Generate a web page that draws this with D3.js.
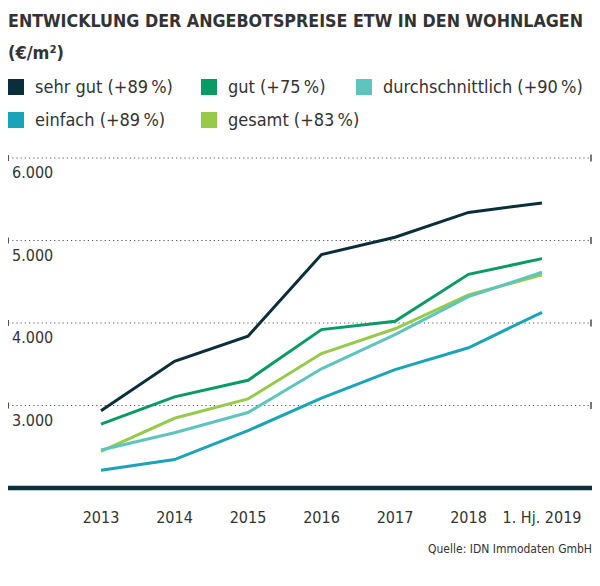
<!DOCTYPE html>
<html>
<head>
<meta charset="utf-8">
<script src="https://cdn.jsdelivr.net/npm/d3@7"></script>
<style>
  body { margin: 0; background: #fff; }
  svg { display: block; font-family: "Liberation Sans Narrow", "DejaVu Sans Condensed", "Roboto", sans-serif; }
</style>
</head>
<body>
<div id="chart"></div>
<script>
var years = ["2013", "2014", "2015", "2016", "2017", "2018", "1. Hj. 2019"];

var sehrGut = [2935, 3535, 3840, 4830, 5040, 5340, 5455];
var gut = [2775, 3105, 3305, 3920, 4020, 4590, 4780];
var durchschnittlich = [2460, 2670, 2915, 3445, 3860, 4320, 4615];
var einfach = [2215, 2345, 2695, 3090, 3435, 3700, 4130];
var gesamt = [2445, 2845, 3080, 3630, 3930, 4340, 4585];

var yTicks = [3000, 4000, 5000, 6000];

var seriesNames = ["sehr gut (+89\u202F%)", "gut (+75\u202F%)", "durchschnittlich (+90\u202F%)", "einfach (+89\u202F%)", "gesamt (+83\u202F%)"];
var seriesColors = ["#0b2e3b", "#0a9a64", "#5ec4be", "#1ba3b8", "#97c94a"];
var seriesValues = [sehrGut, gut, durchschnittlich, einfach, gesamt];

var width = 600, height = 586;

var svg = d3.select("#chart")
  .append("svg")
    .attr("width", width)
    .attr("height", height);

// title (two lines)
svg.append("text")
  .attr("x", 8).attr("y", 27)
  .attr("font-size", "18px")
  .attr("font-weight", "bold")
  .attr("fill", "#333")
  .attr("textLength", 575)
  .attr("lengthAdjust", "spacingAndGlyphs")
  .text("ENTWICKLUNG DER ANGEBOTSPREISE ETW IN DEN WOHNLAGEN");
svg.append("text")
  .attr("x", 8).attr("y", 59)
  .attr("font-size", "18px")
  .attr("font-weight", "bold")
  .attr("fill", "#333")
  .text("(€/m²)");

// legend
var legendPos = [[8, 79], [201, 79], [356, 79], [8, 112], [201, 112]];
var legend = svg.selectAll(".legend")
  .data(seriesNames)
  .enter()
  .append("g")
    .attr("class", "legend")
    .attr("transform", function(d, i) { return "translate(" + legendPos[i][0] + "," + legendPos[i][1] + ")"; });
legend.append("rect")
  .attr("width", 16).attr("height", 16)
  .attr("fill", function(d, i) { return seriesColors[i]; });
legend.append("text")
  .attr("x", 27).attr("y", 14)
  .attr("font-size", "18px")
  .attr("fill", "#333")
  .text(function(d) { return d; });

var x = d3.scalePoint()
  .domain(years)
  .range([101, 542]);

var y = d3.scaleLinear()
  .domain([2000, 6000])
  .range([488, 158]);

// grid lines
var grid = svg.append("g");
grid.selectAll("line")
  .data(yTicks)
  .enter()
  .append("line")
    .attr("x1", 8).attr("x2", 591)
    .attr("y1", function(d) { return y(d); })
    .attr("y2", function(d) { return y(d); })
    .attr("stroke", "#555")
    .attr("stroke-width", 1.2)
    .attr("stroke-dasharray", "1.2,3");
grid.selectAll(".tl")
  .data(yTicks)
  .enter()
  .append("line")
    .attr("class", "tl")
    .attr("x1", 8.5).attr("x2", 8.5)
    .attr("y1", function(d) { return y(d) - 3; })
    .attr("y2", function(d) { return y(d) + 3; })
    .attr("stroke", "#555");
grid.selectAll(".tr")
  .data(yTicks)
  .enter()
  .append("line")
    .attr("class", "tr")
    .attr("x1", 591).attr("x2", 591)
    .attr("y1", function(d) { return y(d) - 3.5; })
    .attr("y2", function(d) { return y(d) + 3.5; })
    .attr("stroke", "#777")
    .attr("stroke-width", 2);
grid.selectAll("text")
  .data(yTicks)
  .enter()
  .append("text")
    .attr("x", 12)
    .attr("y", function(d) { return y(d) + 20; })
    .attr("font-size", "16px")
    .attr("fill", "#333")
    .text(function(d) { return d3.format(",")(d).replace(",", "."); });

// lines
var line = d3.line()
  .x(function(d, i) { return x(years[i]); })
  .y(function(d) { return y(d); });

// draw order: lighter lines below, dark on top
var order = [4, 2, 3, 1, 0];
svg.selectAll(".series")
  .data(order)
  .enter()
  .append("path")
    .attr("class", "series")
    .attr("d", function(k) { return line(seriesValues[k]); })
    .attr("fill", "none")
    .attr("stroke", function(k) { return seriesColors[k]; })
    .attr("stroke-width", 3)
    .attr("stroke-linejoin", "miter");

// baseline
svg.append("line")
  .attr("x1", 8).attr("x2", 592)
  .attr("y1", y(2000)).attr("y2", y(2000))
  .attr("stroke", "#0b2e3b")
  .attr("stroke-width", 4.5);

// x labels
svg.selectAll(".xl")
  .data(years)
  .enter()
  .append("text")
    .attr("class", "xl")
    .attr("x", function(d) { return x(d); })
    .attr("y", 523)
    .attr("text-anchor", "middle")
    .attr("font-size", "16px")
    .attr("fill", "#333")
    .text(function(d) { return d; });

svg.append("text")
  .attr("x", 592).attr("y", 553)
  .attr("text-anchor", "end")
  .attr("font-size", "12px")
  .attr("fill", "#333")
  .text("Quelle: IDN Immodaten GmbH");
</script>
</body>
</html>
